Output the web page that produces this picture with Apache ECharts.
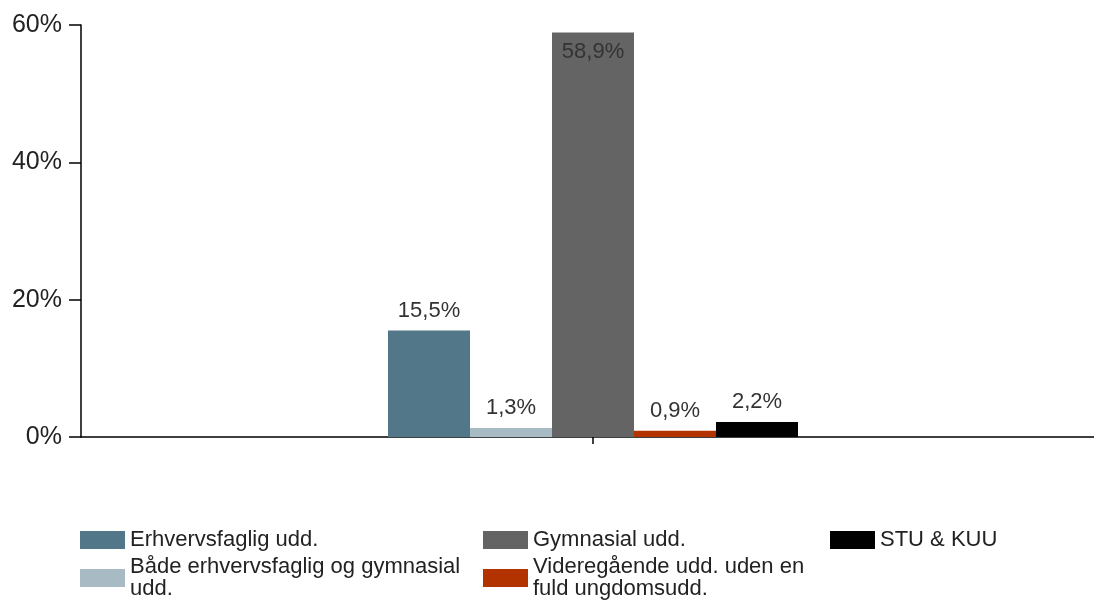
<!DOCTYPE html>
<html>
<head>
<meta charset="utf-8">
<script src="https://cdn.jsdelivr.net/npm/echarts@6/dist/echarts.min.js"></script>
<style>
html,body{margin:0;padding:0;background:#fff;}
#chart{width:1094px;height:601px;}
</style>
</head>
<body>
<div id="chart"></div>
<script type="text/javascript">
// data
var categories = [''];
var seriesNames = ['Erhvervsfaglig udd.', 'Både erhvervsfaglig og gymnasial udd.', 'Gymnasial udd.', 'Videregående udd. uden en fuld ungdomsudd.', 'STU & KUU'];
var legendText = ['Erhvervsfaglig udd.', 'Både erhvervsfaglig og gymnasial\nudd.', 'Gymnasial udd.', 'Videregående udd. uden en\nfuld ungdomsudd.', 'STU & KUU'];
var values = [15.5, 1.3, 58.9, 0.9, 2.2];
var colors = ['#527789', '#a8bac4', '#646464', '#b23200', '#000000'];
var yTicks = [0, 20, 40, 60];

var font = 'Liberation Sans, Arial, sans-serif';

var series = [];
for (var i = 0; i < seriesNames.length; i++) {
    series.push({
        name: seriesNames[i],
        type: 'bar',
        data: [values[i]],
        barWidth: 82,
        barGap: '0%',
        itemStyle: {color: colors[i]},
        label: {
            show: true,
            position: values[i] > 50 ? 'insideTop' : 'top',
            distance: values[i] > 50 ? 8 : 9,
            fontFamily: font,
            fontSize: 22,
            color: '#333',
            formatter: function (p) {
                return p.value.toFixed(1).replace('.', ',') + '%';
            }
        },
        animation: false
    });
}

// one legend per item, laid out in three columns like the original
var legendPos = [[80, 529], [80, 556], [483, 529], [483, 556], [830, 529]];
var legends = [];
for (var j = 0; j < seriesNames.length; j++) {
    legends.push({
        left: legendPos[j][0],
        top: legendPos[j][1],
        padding: 0,
        itemWidth: 45,
        itemHeight: 18,
        itemGap: 0,
        itemTextGap: 10,
        icon: 'rect',
        data: [seriesNames[j]],
        selectedMode: false,
        textStyle: {fontFamily: font, fontSize: 22, color: '#222', lineHeight: 22},
        formatter: function (name) {
            return legendText[seriesNames.indexOf(name)];
        }
    });
}

var option = {
    backgroundColor: '#ffffff',
    textStyle: {fontFamily: font},
    legend: legends,
    grid: {left: 81, width: 1024, top: 25, bottom: 164, containLabel: false, outerBoundsMode: 'none'},
    xAxis: {
        type: 'category',
        data: categories,
        axisLine: {lineStyle: {color: '#000', width: 1.5}},
        axisTick: {show: true, alignWithLabel: true, length: 7, lineStyle: {color: '#000', width: 1.5}},
        axisLabel: {show: false}
    },
    yAxis: {
        type: 'value',
        min: yTicks[0],
        max: yTicks[yTicks.length - 1],
        interval: 20,
        axisLine: {show: true, lineStyle: {color: '#000', width: 1.5}},
        axisTick: {show: true, length: 12, lineStyle: {color: '#000', width: 1.5}},
        splitLine: {show: false},
        axisLabel: {
            margin: 19,
            fontFamily: font,
            fontSize: 25,
            color: '#222',
            formatter: '{value}%'
        }
    },
    series: series
};

var chart = echarts.init(document.getElementById('chart'));
chart.setOption(option);
</script>
</body>
</html>
